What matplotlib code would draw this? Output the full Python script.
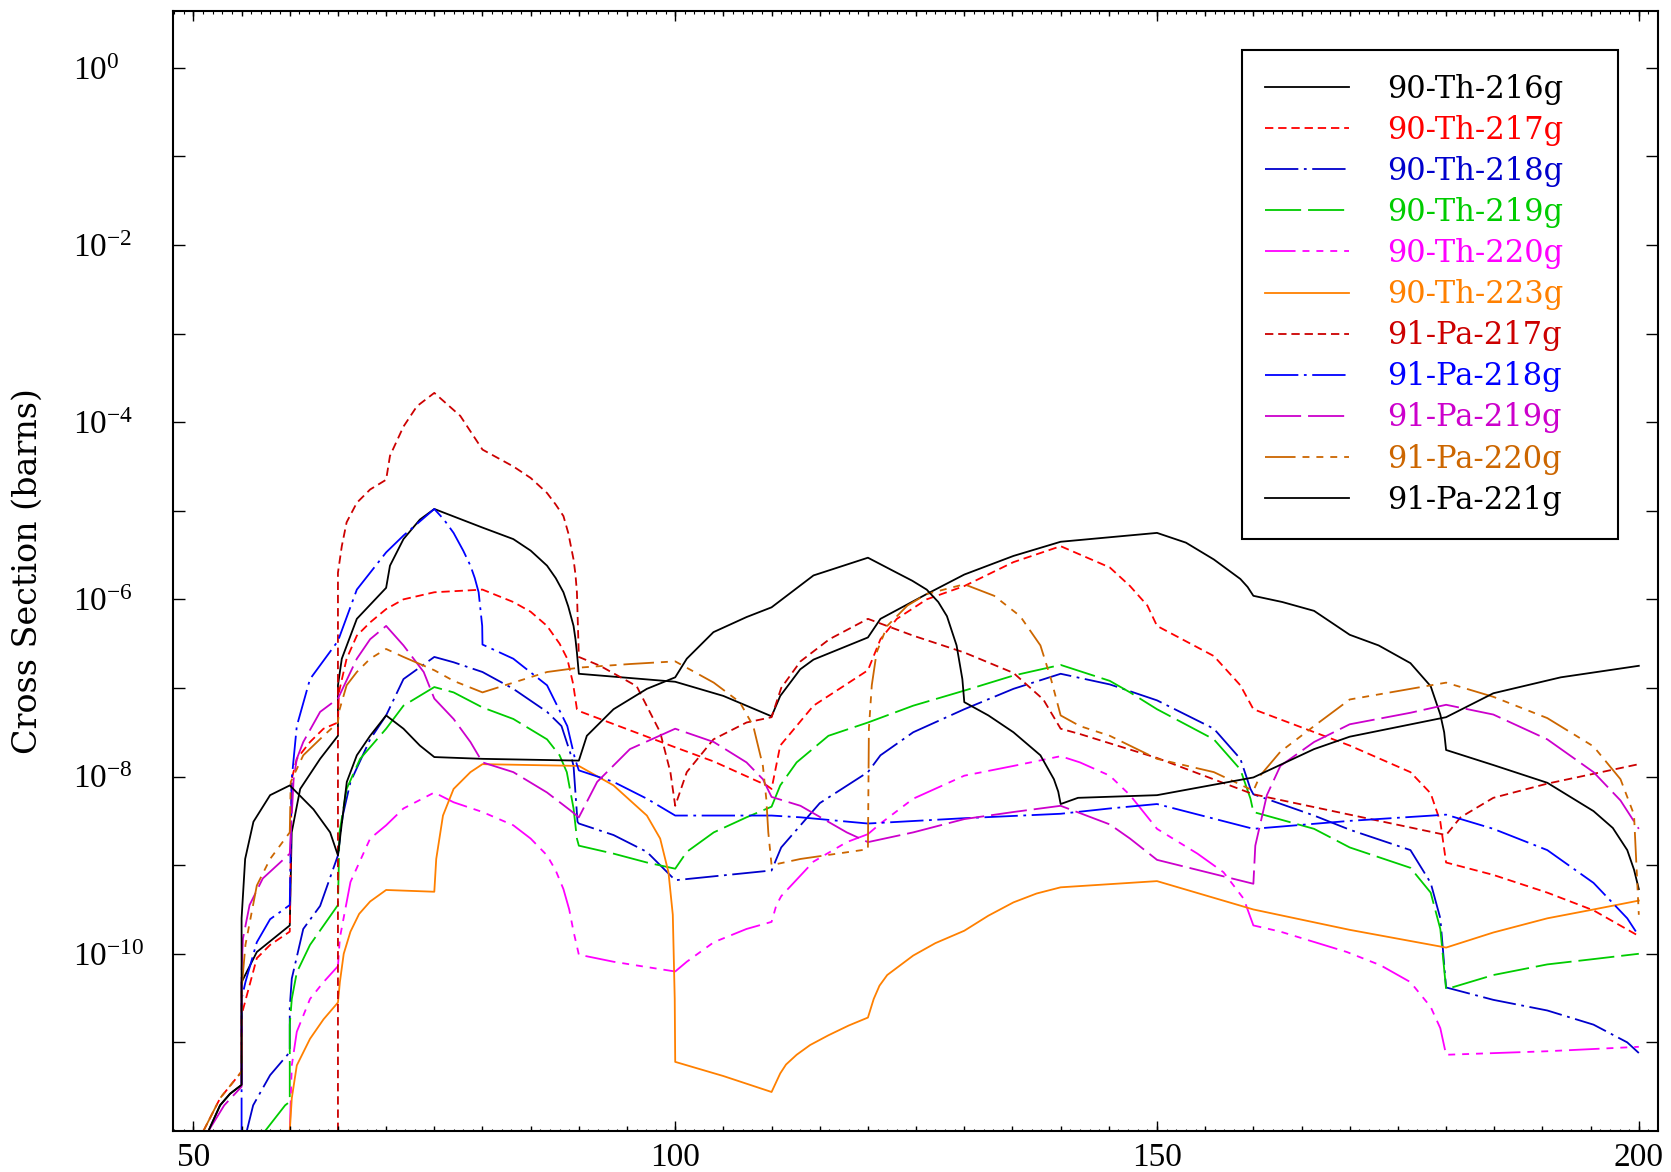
import numpy as np
import matplotlib
matplotlib.use("Agg")
import matplotlib.pyplot as plt
from matplotlib.ticker import FixedLocator, MultipleLocator, NullLocator, FuncFormatter

# energy points and log10(cross section in barns)
th216_x = [51.56, 52.77, 53.8, 55.0, 55.0, 56.58, 60.0, 60.2, 61.08, 63.15, 65.0, 65.0, 65.4, 66.96,
           70.0, 70.4, 71.8, 73.5, 75.0, 80.0, 83.2, 85.0, 86.7, 87.6, 88.4, 88.9, 89.45, 89.65, 89.8, 90.0,
           100.0, 105.0, 110.0, 110.9, 112.97, 114.35, 120.0, 121.3, 126.1, 130.0, 135.1, 140.0, 150.0,
           153.0, 155.9, 158.65, 159.4, 160.0, 163.0, 166.3, 170.0, 173.0, 176.3, 178.4, 179.4, 179.8, 180.0,
           184.9, 190.5, 195.3, 197.3, 198.8, 199.5, 200.0]
th216_e = [-12.0, -11.71, -11.58, -11.48, -10.32, -9.98, -9.68, -8.63, -8.14, -7.80, -7.54, -6.97, -6.67, -6.22,
           -5.87, -5.62, -5.32, -5.10, -4.98, -5.19, -5.32, -5.45, -5.62, -5.76, -5.92, -6.08, -6.30, -6.45, -6.60, -6.84,
           -6.93, -7.09, -7.32, -7.09, -6.79, -6.68, -6.43, -6.22, -5.94, -5.72, -5.51, -5.35, -5.25,
           -5.36, -5.55, -5.77, -5.86, -5.96, -6.03, -6.13, -6.40, -6.52, -6.72, -6.98, -7.30, -7.50, -7.70,
           -7.87, -8.07, -8.39, -8.58, -8.83, -9.05, -9.27]

th217_x = [51.04, 52.77, 55.0, 55.0, 56.58, 57.96, 60.0, 60.2, 60.73, 62.1, 63.5, 65.0, 65.1, 65.9, 66.96,
           68.34, 70.0, 71.8, 75.0, 80.0, 83.2, 85.0, 86.7, 88.0, 88.8, 89.4, 89.8, 90.0, 100.0, 104.0, 109.5,
           110.0, 110.9, 114.35, 120.0, 121.3, 123.0, 126.1, 130.0, 135.1, 140.0, 145.1, 147.2, 149.0, 150.0,
           155.9, 158.65, 160.0, 170.0, 176.3, 178.4, 179.4, 180.0, 184.9, 190.5, 195.3, 200.0]
th217_e = [-12.0, -11.63, -11.33, -10.69, -10.05, -9.90, -9.75, -8.03, -7.80, -7.61, -7.46, -7.39, -7.05, -6.67, -6.41,
           -6.26, -6.11, -6.00, -5.92, -5.89, -6.03, -6.14, -6.30, -6.50, -6.67, -6.95, -7.24, -7.26, -7.67, -7.83, -8.10,
           -8.14, -7.65, -7.20, -6.80, -6.45, -6.22, -6.00, -5.85, -5.58, -5.40, -5.64, -5.85, -6.07, -6.30,
           -6.64, -6.97, -7.24, -7.65, -7.95, -8.19, -8.51, -8.97, -9.11, -9.31, -9.51, -9.80]

th218_x = [55.54, 56.2, 57.96, 60.0, 60.0, 60.21, 61.4, 63.15, 65.0, 65.5, 66.3, 68.34, 70.0, 71.8, 75.0, 77.0,
           80.0, 83.2, 86.7, 88.2, 89.1, 89.45, 89.86, 90.0, 93.6, 97.06, 100.0, 110.0, 111.0, 113.0, 115.0,
           120.0, 121.3, 124.7, 130.0, 135.1, 140.0, 145.1, 150.0, 155.9, 158.65, 159.7, 160.0, 166.3, 170.0,
           176.3, 178.4, 179.4, 180.0, 184.9, 190.5, 195.3, 198.8, 200.0]
th218_e = [-12.0, -11.71, -11.37, -11.11, -10.60, -10.28, -9.72, -9.46, -8.89, -8.44, -8.06, -7.58, -7.31, -6.90, -6.65, -6.71,
           -6.82, -7.01, -7.27, -7.43, -7.73, -7.88, -8.51, -8.53, -8.66, -8.85, -9.17, -9.06, -8.80, -8.55, -8.30,
           -7.95, -7.76, -7.50, -7.24, -7.01, -6.84, -6.96, -7.14, -7.46, -7.80, -8.14, -8.20, -8.44, -8.60,
           -8.83, -9.20, -9.60, -10.38, -10.52, -10.64, -10.80, -11.00, -11.12]

th219_x = [57.44, 59.52, 60.0, 60.0, 60.21, 60.73, 62.1, 65.0, 65.16, 65.9, 67.3, 70.0, 71.8, 75.0, 77.0, 80.0,
           83.2, 86.7, 88.0, 88.75, 89.45, 89.8, 90.0, 93.6, 97.06, 100.0, 101.2, 104.0, 107.4, 110.0, 110.9,
           112.6, 115.9, 120.0, 124.7, 130.0, 135.1, 140.0, 145.1, 147.2, 150.0, 155.9, 158.65, 159.7, 160.0,
           166.3, 170.0, 176.3, 178.4, 179.4, 180.0, 184.9, 190.5, 195.3, 200.0]
th219_e = [-12.0, -11.71, -11.67, -10.80, -10.51, -10.21, -9.90, -9.45, -8.63, -8.14, -7.80, -7.46, -7.20, -6.99, -7.05, -7.22,
           -7.35, -7.58, -7.76, -7.95, -8.36, -8.70, -8.78, -8.87, -8.97, -9.04, -8.85, -8.63, -8.46, -8.34, -8.10,
           -7.84, -7.54, -7.39, -7.20, -7.03, -6.86, -6.74, -6.92, -7.05, -7.24, -7.58, -7.92, -8.25, -8.40,
           -8.59, -8.80, -9.03, -9.31, -9.72, -10.40, -10.24, -10.12, -10.06, -10.00]

th220_x = [60.0, 60.21, 60.73, 62.1, 63.5, 65.0, 65.2, 66.3, 68.34, 70.0, 71.8, 75.0, 77.0, 80.0, 83.2, 85.0,
           86.7, 87.6, 88.4, 89.0, 89.45, 90.0, 93.6, 97.06, 100.0, 101.2, 104.0, 107.4, 110.0, 110.5, 111.0,
           114.35, 117.8, 120.0, 121.3, 124.7, 130.0, 135.1, 140.0, 142.0, 145.1, 147.2, 150.0, 154.2, 156.9,
           159.0, 160.0, 162.8, 169.7, 173.2, 176.3, 178.4, 179.4, 180.0, 190.5, 200.0]
th220_e = [-12.0, -11.26, -10.88, -10.51, -10.32, -10.14, -9.82, -9.19, -8.70, -8.55, -8.36, -8.18, -8.29, -8.40, -8.55, -8.70,
           -8.89, -9.06, -9.27, -9.50, -9.75, -10.01, -10.09, -10.15, -10.20, -10.09, -9.87, -9.72, -9.64, -9.45, -9.35,
           -8.96, -8.74, -8.65, -8.53, -8.25, -7.99, -7.88, -7.77, -7.84, -7.99, -8.21, -8.59, -8.87, -9.08,
           -9.38, -9.68, -9.75, -9.98, -10.13, -10.32, -10.60, -10.84, -11.14, -11.10, -11.05]

th223_x = [60.0, 60.21, 60.73, 62.1, 63.5, 65.0, 65.2, 65.6, 66.3, 67.2, 68.34, 70.0, 75.0, 75.2, 75.9, 77.0,
           78.75, 80.0, 90.0, 93.6, 97.06, 98.44, 99.3, 99.75, 99.95, 100.0, 105.0, 110.0, 110.9, 111.5, 112.6,
           114.0, 115.9, 118.0, 120.0, 120.6, 121.2, 122.0, 124.7, 127.0, 130.0, 132.5, 135.1, 137.5, 140.0,
           150.0, 160.0, 170.0, 180.0, 184.9, 190.5, 195.3, 200.0]
th223_e = [-12.0, -11.63, -11.26, -10.96, -10.74, -10.55, -10.32, -10.00, -9.75, -9.55, -9.41, -9.28, -9.30, -8.93, -8.44, -8.14,
           -7.95, -7.86, -7.88, -8.10, -8.44, -8.70, -9.08, -9.56, -10.51, -11.22, -11.38, -11.56, -11.35, -11.25, -11.14,
           -11.03, -10.92, -10.81, -10.72, -10.51, -10.36, -10.24, -10.02, -9.88, -9.74, -9.57, -9.42, -9.32, -9.25,
           -9.18, -9.50, -9.73, -9.93, -9.76, -9.60, -9.50, -9.40]

pa217_x = [65.0, 65.0, 65.4, 65.9, 66.96, 68.34, 70.0, 70.4, 71.8, 73.2, 75.0, 77.7, 80.0, 83.2, 85.0, 86.7,
           87.6, 88.4, 88.9, 89.45, 89.65, 89.8, 90.0, 92.2, 96.0, 98.44, 99.5, 100.0, 101.2, 103.97, 107.4,
           110.0, 111.0, 113.0, 116.0, 120.0, 124.7, 130.0, 135.1, 138.2, 140.0, 142.0, 150.0, 160.0, 170.0,
           180.0, 181.5, 184.9, 190.5, 200.0]
pa217_e = [-12.0, -5.70, -5.40, -5.13, -4.91, -4.76, -4.65, -4.38, -4.05, -3.82, -3.67, -3.93, -4.31, -4.50, -4.63, -4.80,
           -4.93, -5.06, -5.25, -5.55, -5.72, -5.92, -6.65, -6.75, -6.98, -7.50, -7.95, -8.33, -7.95, -7.58, -7.39,
           -7.33, -7.00, -6.70, -6.45, -6.22, -6.41, -6.60, -6.83, -7.13, -7.46, -7.52, -7.79, -8.20, -8.43,
           -8.66, -8.46, -8.24, -8.08, -7.86]

pa218_x = [55.0, 55.0, 55.4, 56.58, 57.96, 60.0, 60.2, 60.73, 62.1, 65.0, 66.96, 70.0, 71.8, 75.0, 76.0, 77.0,
           78.0, 78.75, 79.2, 79.6, 79.97, 80.0, 83.2, 86.7, 88.8, 89.6, 90.0, 93.6, 97.06, 100.0, 110.0, 113.0,
           120.0, 130.0, 140.0, 145.1, 150.0, 160.0, 170.0, 180.0, 184.9, 190.5, 195.3, 198.8, 200.0]
pa218_e = [-12.0, -10.51, -10.32, -9.87, -9.61, -9.45, -8.03, -7.43, -6.90, -6.47, -5.89, -5.47, -5.28, -4.98, -5.10, -5.25,
           -5.45, -5.62, -5.76, -5.92, -6.30, -6.51, -6.67, -6.97, -7.43, -7.80, -7.93, -8.06, -8.25, -8.44, -8.44, -8.46,
           -8.53, -8.47, -8.42, -8.36, -8.31, -8.59, -8.50, -8.43, -8.59, -8.83, -9.20, -9.60, -9.80]

pa219_x = [51.56, 53.2, 55.0, 55.0, 55.14, 55.83, 57.2, 60.0, 60.4, 60.73, 61.4, 63.15, 65.0, 66.96, 68.34, 70.0,
           71.8, 73.9, 75.0, 77.0, 78.75, 80.0, 83.2, 86.7, 89.1, 90.0, 91.9, 95.3, 100.0, 104.0, 107.4, 109.1,
           110.0, 113.0, 117.8, 120.0, 124.7, 130.0, 135.1, 140.0, 145.1, 147.2, 150.0, 160.0, 160.2, 161.4,
           162.8, 166.3, 170.0, 176.3, 180.0, 184.9, 190.5, 195.3, 198.1, 200.0]
pa219_e = [-12.0, -11.71, -11.50, -10.20, -9.83, -9.45, -9.15, -8.87, -8.03, -7.80, -7.61, -7.27, -7.12, -6.67, -6.45, -6.30,
           -6.52, -6.82, -7.12, -7.35, -7.61, -7.84, -7.95, -8.18, -8.38, -8.46, -8.06, -7.69, -7.46, -7.61, -7.84, -8.03,
           -8.23, -8.33, -8.63, -8.74, -8.63, -8.48, -8.40, -8.33, -8.54, -8.70, -8.94, -9.21, -8.78, -8.21,
           -7.88, -7.61, -7.41, -7.28, -7.19, -7.30, -7.58, -7.95, -8.27, -8.59]

pa220_x = [51.04, 52.77, 55.0, 55.0, 55.4, 56.58, 57.96, 60.0, 60.1, 61.4, 63.5, 65.0, 65.1, 65.9, 66.96, 68.34,
           70.0, 71.8, 75.0, 77.0, 80.0, 83.2, 86.7, 90.1, 95.3, 100.0, 104.0, 106.7, 108.1, 109.1, 109.45,
           109.66, 110.0, 113.0, 120.0, 120.1, 120.4, 120.9, 122.0, 124.1, 126.1, 130.0, 133.1, 135.8, 137.9,
           139.0, 140.0, 142.0, 145.1, 150.0, 155.9, 160.0, 160.7, 162.8, 166.3, 170.0, 180.0, 184.9, 190.5,
           195.3, 198.1, 199.5, 200.0]
pa220_e = [-12.0, -11.63, -11.33, -10.40, -9.90, -9.23, -8.93, -8.63, -8.06, -7.76, -7.54, -7.39, -7.27, -6.97, -6.82, -6.67,
           -6.56, -6.65, -6.80, -6.92, -7.05, -6.94, -6.82, -6.77, -6.73, -6.70, -6.94, -7.16, -7.43, -7.88, -8.25,
           -8.63, -9.00, -8.93, -8.82, -7.46, -6.97, -6.60, -6.30, -6.07, -5.94, -5.83, -5.96, -6.19, -6.52,
           -6.90, -7.31, -7.43, -7.54, -7.80, -7.95, -8.16, -7.99, -7.72, -7.43, -7.13, -6.94, -7.10, -7.34,
           -7.66, -8.03, -8.43, -9.56]

pa221_x = [51.56, 52.77, 53.8, 55.0, 55.0, 55.37, 56.23, 57.96, 60.0, 62.46, 64.19, 65.0, 65.92, 66.96, 68.34,
           70.0, 71.8, 73.5, 75.0, 80.0, 90.0, 90.83, 93.6, 97.06, 100.0, 101.2, 103.97, 107.4, 110.0, 114.35,
           120.0, 123.0, 124.6, 126.1, 127.3, 128.2, 129.2, 129.8, 130.0, 132.5, 135.1, 137.9, 139.3, 139.75,
           140.0, 141.8, 150.0, 160.0, 166.3, 170.0, 180.0, 184.9, 191.9, 200.0]
pa221_e = [-12.0, -11.71, -11.58, -11.48, -9.60, -8.93, -8.51, -8.21, -8.10, -8.37, -8.63, -8.89, -8.06, -7.76, -7.54,
           -7.31, -7.46, -7.65, -7.78, -7.80, -7.82, -7.54, -7.24, -7.01, -6.88, -6.67, -6.37, -6.20, -6.09, -5.73,
           -5.53, -5.70, -5.79, -5.89, -6.03, -6.19, -6.52, -6.90, -7.16, -7.31, -7.50, -7.76, -8.03, -8.17,
           -8.31, -8.24, -8.21, -8.01, -7.69, -7.55, -7.33, -7.06, -6.88, -6.75]

labels = ["90-Th-216g", "90-Th-217g", "90-Th-218g", "90-Th-219g", "90-Th-220g", "90-Th-223g",
          "91-Pa-217g", "91-Pa-218g", "91-Pa-219g", "91-Pa-220g", "91-Pa-221g"]
xs = [th216_x, th217_x, th218_x, th219_x, th220_x, th223_x, pa217_x, pa218_x, pa219_x, pa220_x, pa221_x]
es = [th216_e, th217_e, th218_e, th219_e, th220_e, th223_e, pa217_e, pa218_e, pa219_e, pa220_e, pa221_e]
colors = ["#000000", "#ff0000", "#0000cc", "#00cc00", "#ff00ff", "#ff8000",
          "#cc0000", "#0000ff", "#cc00cc", "#cc6600", "#000000"]

SOLID = "-"
DASH = (0, (6, 3.5))
DASHDOT = (0, (24, 4, 2, 4))
LONGDASH = (0, (26, 5))
DASH3DOT = (0, (22, 5, 5, 5, 5, 5, 5, 5))
styles = [SOLID, DASH, DASHDOT, LONGDASH, DASH3DOT] * 2 + [SOLID]

plt.rcParams["lines.scale_dashes"] = False
plt.rcParams["font.family"] = "Liberation Serif"
plt.rcParams["mathtext.fontset"] = "custom"
plt.rcParams["mathtext.rm"] = "Liberation Serif"

fig = plt.figure(figsize=(16.71, 11.72), dpi=100)
ax = fig.add_axes([0.1034, 0.035, 0.8887, 0.9556])

for x, e, lab, c, ls in zip(xs, es, labels, colors, styles):
    ax.plot(x, np.power(10.0, e), color=c, ls=ls, lw=1.3, label=lab)

ax.set_yscale("log")
ax.set_xlim(47.86, 201.97)
ax.set_ylim(1e-12, 10 ** 0.64)

# y: a tick every decade, label every second one
ax.yaxis.set_major_locator(FixedLocator(10.0 ** np.arange(-11, 1)))
ax.yaxis.set_minor_locator(NullLocator())
def ylab(v, pos):
    p = int(round(np.log10(v)))
    return r"$\mathregular{10^{%d}}$" % p if p % 2 == 0 else ""
ax.yaxis.set_major_formatter(FuncFormatter(ylab))

ax.xaxis.set_major_locator(FixedLocator([50, 100, 150, 200]))
ax.xaxis.set_minor_locator(MultipleLocator(1))

# medium ticks every 5 on a twin x axis
ax2 = ax.twiny()
ax2.set_xlim(ax.get_xlim())
ax2.xaxis.set_major_locator(MultipleLocator(5))
ax2.tick_params(axis="x", direction="in", length=3.6, width=1.0, top=True, bottom=True,
                labeltop=False, labelbottom=False)
for s in ax2.spines.values():
    s.set_visible(False)

ax.tick_params(axis="y", which="major", direction="in", length=8.6, width=1.0,
               left=True, right=True, labelsize=24, pad=72)
ax.tick_params(axis="x", which="major", direction="in", length=7.2, width=1.0,
               top=True, bottom=True, labelsize=24, pad=8)
ax.tick_params(axis="x", which="minor", direction="in", length=1.8, width=0.8, top=True, bottom=True)
for t in ax.get_yticklabels():
    t.set_horizontalalignment("left")
for s in ax.spines.values():
    s.set_linewidth(1.5)

ax.set_ylabel("Cross Section (barns)", family="DejaVu Serif", fontsize=24, va="center")
ax.yaxis.set_label_coords(-0.098, 0.5)

leg = ax.legend(loc="upper left", bbox_to_anchor=(0.7197, 0.5286, 0.2536, 0.4366), mode="expand",
                prop={"family": "DejaVu Serif", "size": 22}, labelcolor="linecolor",
                handlelength=2.75, handletextpad=1.24, labelspacing=0.33, borderpad=0.78,
                borderaxespad=0, fancybox=False, framealpha=1, edgecolor="black")
leg.get_frame().set_linewidth(1.5)

fig.savefig("out.png", dpi=100)
